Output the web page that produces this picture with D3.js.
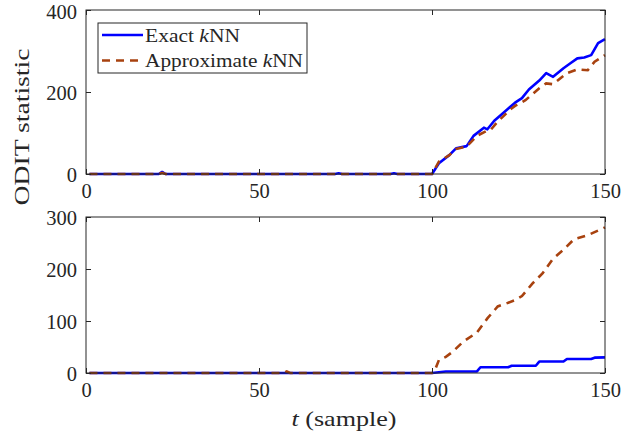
<!DOCTYPE html>
<html>
<head>
<meta charset="utf-8">
<script src="https://cdn.jsdelivr.net/npm/d3@7"></script>
<style>
  html, body { margin: 0; padding: 0; background: #fff; }
  svg { display: block; }
</style>
</head>
<body>
<svg id="chart" width="639" height="437"></svg>
<script>
// ---- Data ----
const xTicks = [0, 50, 100, 150];
const topYTicks = [0, 200, 400];
const bottomYTicks = [0, 100, 200, 300];

// Top panel
const topExactT = [1, 21, 22, 23, 72, 73, 74, 88, 89, 90, 100, 102, 105, 107, 110, 112, 115, 116, 118, 121, 124, 126, 128, 131, 133, 135, 138, 140, 142, 144, 146, 148, 150];
const topExactV = [0, 0, 5, 0, 0, 2, 0, 0, 2, 0, 0, 26, 46, 63, 68, 93, 113, 109, 130, 152, 174, 185, 206, 228, 246, 237, 258, 270, 282, 284, 290, 319, 329];
const topApproxT = [1, 21, 22, 23, 100, 102, 105, 107, 110, 113, 116, 117, 119, 123, 124, 127, 131, 133, 135, 139, 142, 145, 147, 150];
const topApproxV = [0, 0, 3, 0, 0, 30, 46, 61, 67, 93, 106, 108, 128, 160, 166, 180, 209, 221, 219, 246, 255, 253, 274, 290];

// Bottom panel
const botExactT = [1, 100, 104, 113, 114, 122, 123, 130, 131, 138, 139, 146, 147, 150];
const botExactV = [0, 0, 3, 3, 11, 11, 14, 14, 22, 22, 27, 27, 29.5, 30];
const botApproxT = [1, 57, 58, 59, 100, 101, 102, 104, 106, 109, 113, 116, 119, 122, 124, 126, 129, 132, 135, 138, 141, 145, 148, 150];
const botApproxV = [0, 0, 3, 0, 0, 8, 25, 31, 41, 60, 78, 105, 128, 135, 140, 148, 172, 192, 220, 237, 257, 265, 274, 280];

const seriesNames = ["Exact ", "Approximate "];

// ---- Drawing ----
const FONT = "'Liberation Serif', 'Times New Roman', serif";
const svg = d3.select("#chart");
const blue = "#0000ff";
const brown = "#a8420f";
const axisColor = "#262626";
const left = 86, right = 605;

const x = d3.scaleLinear().domain([0, 150]).range([left, right]);

function styleText(sel, size) {
  return sel.style("font-family", FONT).style("font-size", size + "px").style("fill", axisColor);
}

function panel(top, bottom, yMax, yTicks, exT, exV, apT, apV) {
  const y = d3.scaleLinear().domain([0, yMax]).range([bottom, top]);
  const g = svg.append("g");
  const line = d3.line().x(d => x(d[0])).y(d => y(d[1]));
  const ex = exT.map((t, i) => [t, exV[i]]);
  const ap = apT.map((t, i) => [t, apV[i]]);

  g.append("path").datum(ex).attr("d", line)
    .attr("fill", "none").attr("stroke", blue).attr("stroke-width", 2.6)
    .attr("stroke-linejoin", "round");
  g.append("path").datum(ap).attr("d", line)
    .attr("fill", "none").attr("stroke", brown).attr("stroke-width", 2.6)
    .attr("stroke-dasharray", "8,6");

  g.append("rect").attr("x", left).attr("y", top)
    .attr("width", right - left).attr("height", bottom - top)
    .attr("fill", "none").attr("stroke", axisColor).attr("stroke-width", 1);

  const xb = g.append("g").attr("transform", `translate(0,${bottom})`)
    .call(d3.axisBottom(x).tickValues(xTicks).tickSize(-5).tickPadding(9).tickFormat(d3.format("d")));
  const xt = g.append("g").attr("transform", `translate(0,${top})`)
    .call(d3.axisTop(x).tickValues(xTicks).tickSize(-5).tickFormat(""));
  const yl = g.append("g").attr("transform", `translate(${left},0)`)
    .call(d3.axisLeft(y).tickValues(yTicks).tickSize(-5).tickPadding(9).tickFormat(d3.format("d")));
  const yr = g.append("g").attr("transform", `translate(${right},0)`)
    .call(d3.axisRight(y).tickValues(yTicks).tickSize(-5).tickFormat(""));
  [xb, xt, yl, yr].forEach(a => {
    a.attr("font-family", null).attr("font-size", null);
    a.select(".domain").remove();
    a.selectAll(".tick line").attr("stroke", axisColor);
    styleText(a.selectAll(".tick text"), 20.5);
  });
  yl.selectAll(".tick text").attr("dy", null).attr("y", d => (d === yMax && top < 20) ? 8 : 7);
  return y;
}

panel(10, 174, 400, topYTicks, topExactT, topExactV, topApproxT, topApproxV);
panel(217, 373, 300, bottomYTicks, botExactT, botExactV, botApproxT, botApproxV);

// Y label
styleText(svg.append("text"), 22)
  .attr("transform", "translate(29,127) rotate(-90)")
  .attr("text-anchor", "middle")
  .attr("textLength", 157).attr("lengthAdjust", "spacingAndGlyphs")
  .text("ODIT statistic");

// X label
const xl = styleText(svg.append("text"), 22)
  .attr("x", 344).attr("y", 426)
  .attr("text-anchor", "middle")
  .attr("textLength", 105).attr("lengthAdjust", "spacingAndGlyphs");
xl.append("tspan").style("font-style", "italic").text("t");
xl.append("tspan").text(" (sample)");

// Legend
const lg = svg.append("g");
lg.append("rect").attr("x", 98).attr("y", 23).attr("width", 209).attr("height", 50)
  .attr("fill", "#fff").attr("stroke", axisColor).attr("stroke-width", 1);
const legendRows = [
  { name: seriesNames[0], color: blue, dash: null, y: 35, len: 95 },
  { name: seriesNames[1], color: brown, dash: "8,6", y: 60.5, len: 158 }
];
legendRows.forEach(r => {
  lg.append("line").attr("x1", 102).attr("x2", 143).attr("y1", r.y).attr("y2", r.y)
    .attr("stroke", r.color).attr("stroke-width", 2.6)
    .attr("stroke-dasharray", r.dash);
  const t = styleText(lg.append("text"), 19).attr("x", 145).attr("y", r.y + 6.5)
    .attr("textLength", r.len).attr("lengthAdjust", "spacingAndGlyphs");
  t.append("tspan").text(r.name);
  t.append("tspan").style("font-style", "italic").text("k");
  t.append("tspan").text("NN");
});
</script>
</body>
</html>
